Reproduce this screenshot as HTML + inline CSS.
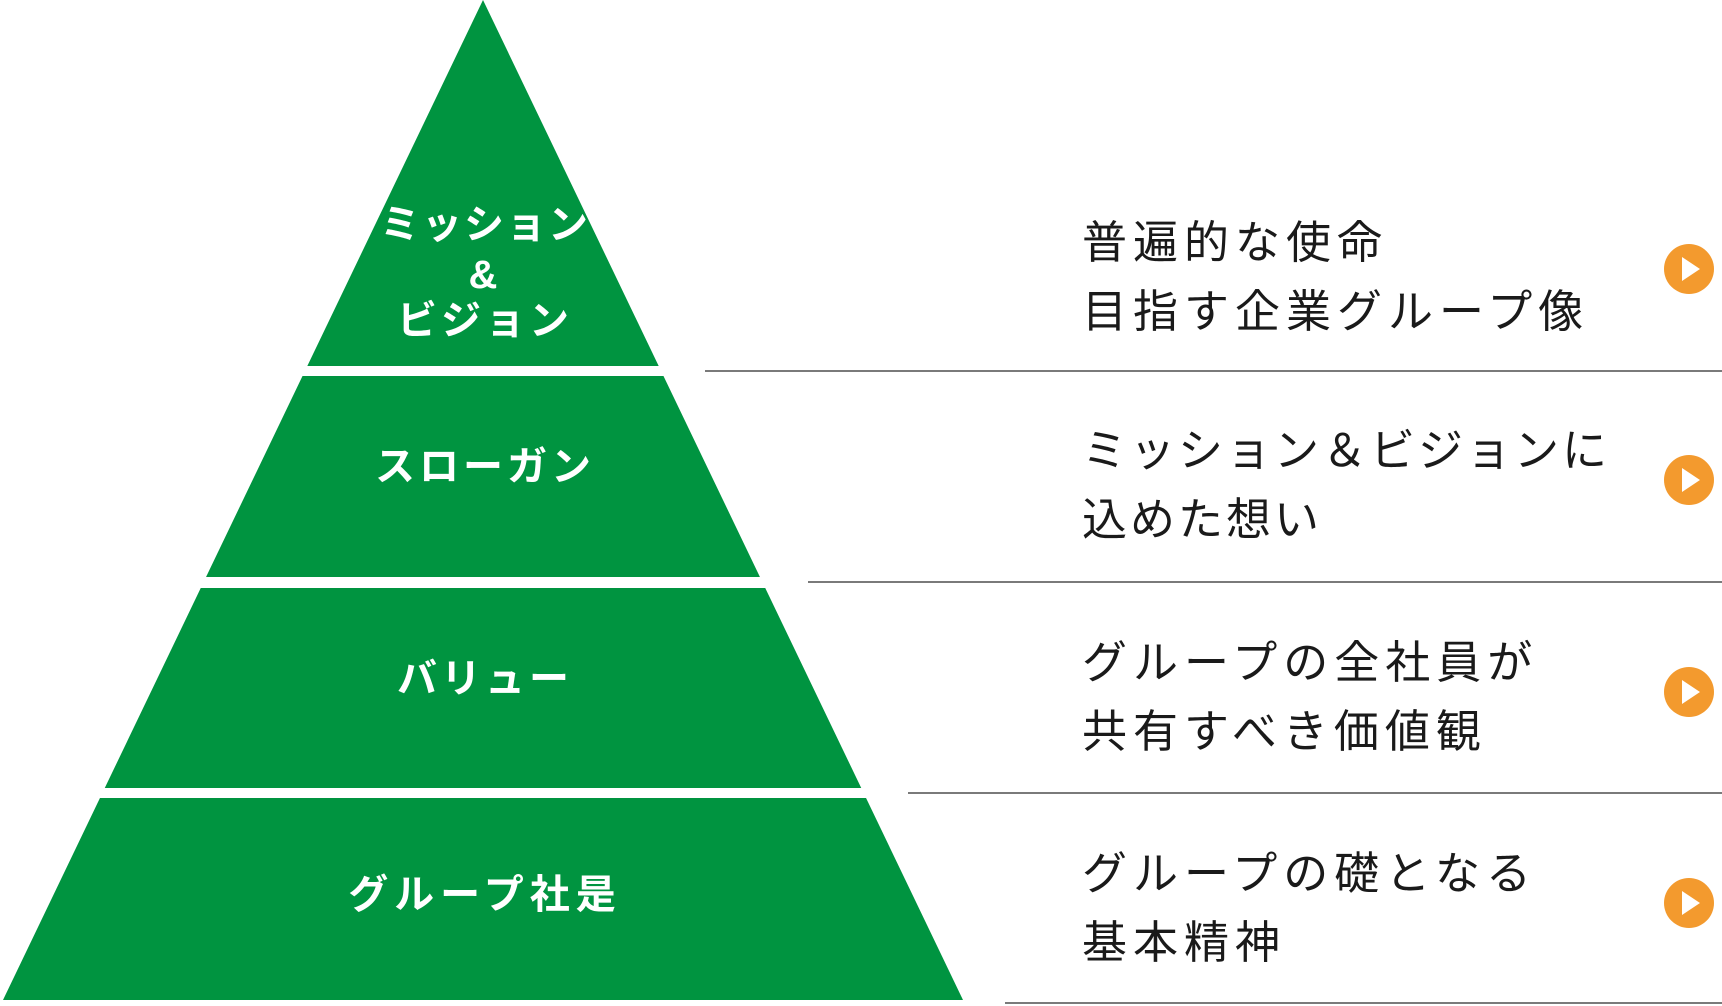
<!DOCTYPE html>
<html><head><meta charset="utf-8"><style>
html,body{margin:0;padding:0;background:#fff;}
body{width:1722px;height:1006px;position:relative;overflow:hidden;font-family:"Liberation Sans","Noto Sans CJK JP",sans-serif;}
.t{position:absolute;left:1082px;font-size:45px;color:#1a1a1a;line-height:69px;white-space:nowrap;letter-spacing:6px;}
.l{position:absolute;left:283px;width:400px;text-align:center;color:#fff;font-weight:bold;font-size:40px;line-height:46px;white-space:nowrap;letter-spacing:4px;text-indent:4px;}
</style></head><body>
<svg width="1722" height="1006" style="position:absolute;left:0;top:0">
<polygon points="483,0 963,1000 3,1000" fill="#009440"/>
<rect x="0" y="366" width="1000" height="10" fill="#fff"/>
<rect x="0" y="577" width="1000" height="11" fill="#fff"/>
<rect x="0" y="788" width="1000" height="10" fill="#fff"/>
<g stroke="#7a7a7a" stroke-width="2">
<line x1="705" y1="371" x2="1722" y2="371"/>
<line x1="808" y1="582" x2="1722" y2="582"/>
<line x1="908" y1="793" x2="1722" y2="793"/>
<line x1="1005" y1="1003" x2="1722" y2="1003"/>
</g>
<g fill="#f39a2e">
<circle cx="1689" cy="269" r="25"/><circle cx="1689" cy="480" r="25"/>
<circle cx="1689" cy="692" r="25"/><circle cx="1689" cy="903" r="25"/>
</g>
<g fill="#fff">
<polygon points="1682,257 1682,281 1700,269"/>
<polygon points="1682,468 1682,492 1700,480"/>
<polygon points="1682,680 1682,704 1700,692"/>
<polygon points="1682,891 1682,915 1700,903"/>
</g>
</svg>
<div class="l" style="top:202px;letter-spacing:2px">ミッション</div>
<div class="l" style="top:252px">&amp;</div>
<div class="l" style="top:298px">ビジョン</div>
<div class="l" style="top:444px">スローガン</div>
<div class="l" style="top:656px">バリュー</div>
<div class="l" style="top:872px;letter-spacing:6px">グループ社是</div>
<div class="t" style="top:208px">普遍的な使命<br>目指す企業グループ像</div>
<div class="t" style="top:416px;letter-spacing:3px">ミッション＆ビジョンに<br>込めた想い</div>
<div class="t" style="top:628px">グループの全社員が<br>共有すべき価値観</div>
<div class="t" style="top:839px">グループの礎となる<br>基本精神</div>
</body></html>
